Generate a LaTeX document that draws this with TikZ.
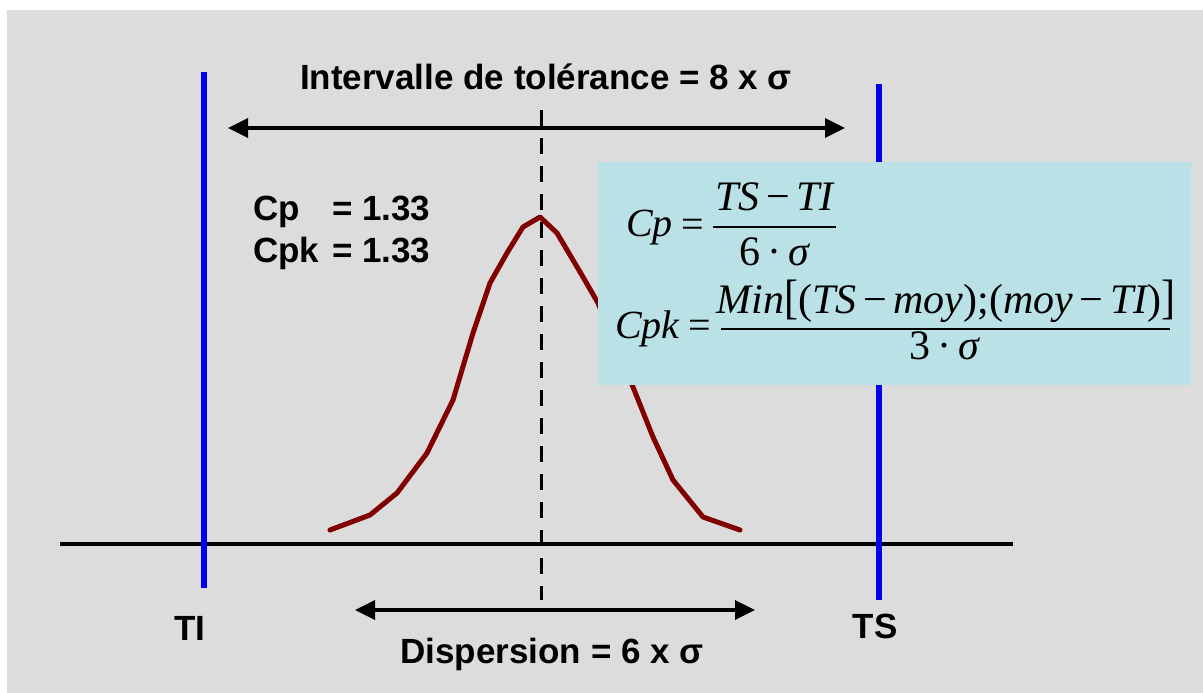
\documentclass[tikz,border=0pt]{standalone}
\usepackage{fontspec}
\usepackage{graphicx}
\setmainfont{Liberation Sans}
\newfontfamily\tnr{Liberation Serif}
\usetikzlibrary{arrows.meta}
\definecolor{bgc}{RGB}{220,220,220}
\definecolor{boxc}{RGB}{186,225,229}
\definecolor{curvec}{RGB}{128,0,0}
\definecolor{tolblue}{RGB}{0,0,235}
\newcommand\msp{\hspace{0.16em}}
\newcommand\tallbr[1]{\scalebox{1}[1.15]{#1}}
\begin{document}
\begin{tikzpicture}[x=1pt,y=-1pt,
  lbl/.style={font=\fontsize{35}{42}\selectfont\bfseries, inner sep=0pt},
  fml/.style={font=\fontsize{42}{48}\selectfont\tnr\itshape, inner sep=0pt},
  fmlname/.style={font=\fontsize{40}{46}\selectfont\tnr\itshape, inner sep=0pt},
  fmlup/.style={font=\fontsize{40}{46}\selectfont\tnr, inner sep=0pt},
  fracbar/.style={line width=1.8pt},
  tolline/.style={tolblue, line width=5.5pt},
  dimarrow/.style={line width=3.5pt, {Triangle[length=20pt,width=19pt]}-{Triangle[length=20pt,width=19pt]}},
  midline/.style={line width=3pt, dash pattern=on 16pt off 12pt},
  axisline/.style={line width=4pt},
  gauss/.style={curvec, line width=5pt, line join=round, line cap=round}
]
\useasboundingbox (0,0) rectangle (1203,693);
\fill[white] (0,0) rectangle (1203,693);
\fill[bgc] (7,10) rectangle (1203,693);

% coordinates
\coordinate (tiTop) at (204,72);
\coordinate (tiBot) at (204,588);
\coordinate (tsTop) at (879,84);
\coordinate (tsBot) at (879,600);
\coordinate (axL) at (60,544);
\coordinate (axR) at (1013,544);
\coordinate (mTop) at (541,110);
\coordinate (mBot) at (541,600);
\coordinate (tolL) at (228,128);
\coordinate (tolR) at (845,128);
\coordinate (disL) at (355,610);
\coordinate (disR) at (755,610);

\draw[axisline] (axL) -- (axR);
\draw[tolline] (tiTop) -- (tiBot);
\draw[tolline] (tsTop) -- (tsBot);
\draw[midline] (mTop) -- (mBot);
\draw[dimarrow] (tolL) -- (tolR);
\draw[dimarrow] (disL) -- (disR);

\draw[gauss] (330,530) -- (370,515) -- (397,493) -- (427,453) -- (453,400)
  -- (473,333) -- (490,283) -- (507,253) -- (523,227) -- (540,217)
  -- (557,233) -- (583,277) -- (598,303) -- (615,345) -- (633,387)
  -- (653,437) -- (673,480) -- (703,517) -- (740,530);

% formula box
\node[fill=boxc, inner sep=0pt, minimum width=593pt, minimum height=223pt, anchor=north west] (box) at (598,162) {};

% Cp formula
\coordinate (cpBarL) at (713,227);
\coordinate (cpBarR) at (836,227);
\node[fmlname, anchor=base west] (cpName) at (626,236) {Cp};
\node[fmlup, anchor=base west] (cpEq) at (681,237) {=};
\draw[fracbar] (cpBarL) -- (cpBarR);
\node[fml, anchor=base] (cpNum) at (774.5,210) {TS\msp{\upshape −}\msp TI};
\node[fml, anchor=base] (cpDen) at (774.5,265) {{\upshape 6\msp·\msp}σ};

% Cpk formula
\coordinate (cpkBarL) at (721,329);
\coordinate (cpkBarR) at (1170,329);
\node[fmlname, anchor=base west] (cpkName) at (615,338) {Cpk};
\node[fmlup, anchor=base west] (cpkEq) at (688,338) {=};
\draw[fracbar] (cpkBarL) -- (cpkBarR);
\node[fml, anchor=base] (cpkNum) at (946,313)
  {Min{\upshape\tallbr{[}(}TS\msp{\upshape −}\msp moy{\upshape );(}moy\msp{\upshape −}\msp TI{\upshape )\tallbr{]}}};
\node[fml, anchor=base] (cpkDen) at (944.5,359) {{\upshape 3\msp·\msp}σ};

% labels
\node[lbl, anchor=base] (title) at (546,90) {Intervalle de tolérance = 8 x σ};
\node[lbl, anchor=base west] (cpL) at (253,220) {Cp};
\node[lbl, anchor=base west] (cpV) at (332,220) {= 1.33};
\node[lbl, anchor=base west] (cpkL) at (253,262) {Cpk};
\node[lbl, anchor=base west] (cpkV) at (332,262) {= 1.33};
\node[lbl, anchor=base] (ti) at (190,640) {TI};
\node[lbl, anchor=base] (ts) at (875,638) {TS};
\node[lbl, anchor=base] (disp) at (552,663) {Dispersion = 6 x σ};
\end{tikzpicture}
\end{document}
